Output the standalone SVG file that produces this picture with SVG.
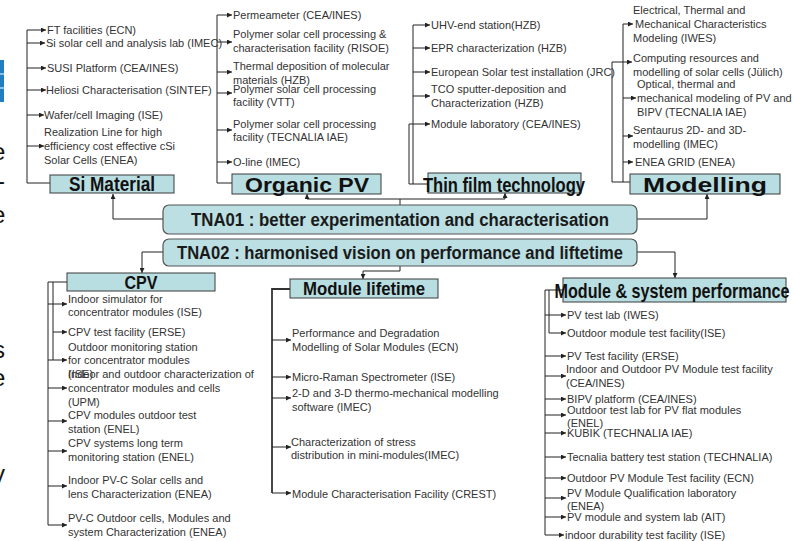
<svg xmlns="http://www.w3.org/2000/svg" width="794" height="541" viewBox="0 0 794 541">
<defs>
<marker id="a" viewBox="0 0 6 6" refX="6" refY="3" markerWidth="5" markerHeight="5" orient="auto" markerUnits="userSpaceOnUse"><path d="M0,0 L6,3 L0,6z" fill="#222"/></marker>
<style>
.it{font-family:"Liberation Sans",Arial,sans-serif;font-size:11px;fill:#333}
.hd{font-family:"Liberation Sans",Arial,sans-serif;font-weight:bold;font-size:19px;fill:#111;text-anchor:middle}
.tn{font-family:"Liberation Sans",Arial,sans-serif;font-weight:bold;font-size:17px;fill:#1a1a1a;text-anchor:middle}
.bx{fill:#b9dee2;stroke:#3a3a3a;stroke-width:1}
.tb{fill:#bbdfe3;stroke:#555;stroke-width:1.2}
.ln{fill:none;stroke:#222;stroke-width:1}
.ar{fill:none;stroke:#222;stroke-width:1;marker-end:url(#a)}
.fr{font-family:"Liberation Sans",Arial,sans-serif;font-size:24px;fill:#111}
</style>
</defs>
<rect width="794" height="541" fill="#fff"/>

<g id="edge-fragments">
<rect x="0" y="60" width="4" height="42" fill="#1f7fc2"/>
<line x1="0" y1="74" x2="4" y2="74" stroke="#fff" stroke-width="1"/>
<line x1="0" y1="88" x2="4" y2="88" stroke="#fff" stroke-width="1"/>
<text class="fr" x="-8" y="160">e</text>
<text class="fr" x="-3" y="189">-</text>
<text class="fr" x="-8" y="223">e</text>
<text class="fr" x="-7" y="358">s</text>
<text class="fr" x="-8" y="386">e</text>
<text class="fr" x="-7" y="482">y</text>
</g>

<g id="connectors">
<!-- Si Material -->
<polyline class="ln" points="27,30 27,183 50,183"/>
<line class="ar" x1="27" y1="30" x2="46" y2="30"/>
<line class="ar" x1="27" y1="43" x2="45" y2="43"/>
<line class="ar" x1="27" y1="68" x2="46" y2="68"/>
<line class="ar" x1="27" y1="90" x2="46" y2="90"/>
<line class="ar" x1="27" y1="115" x2="44" y2="115"/>
<line class="ar" x1="27" y1="146" x2="44" y2="146"/>
<!-- Organic PV -->
<polyline class="ln" points="217,15 217,183 232,183"/>
<line class="ar" x1="217" y1="15" x2="232" y2="15"/>
<line class="ar" x1="217" y1="42" x2="232" y2="42"/>
<line class="ar" x1="217" y1="72" x2="232" y2="72"/>
<line class="ar" x1="217" y1="93" x2="232" y2="93"/>
<line class="ar" x1="217" y1="130" x2="232" y2="130"/>
<line class="ar" x1="217" y1="162" x2="232" y2="162"/>
<!-- Thin film -->
<polyline class="ln" points="413,25 413,184 428,184"/>
<polyline class="ln" points="409,124 409,184 413,184"/>
<line class="ar" x1="413" y1="25" x2="430" y2="25"/>
<line class="ar" x1="413" y1="48" x2="430" y2="48"/>
<line class="ar" x1="413" y1="72" x2="430" y2="72"/>
<line class="ar" x1="413" y1="96" x2="430" y2="96"/>
<line class="ar" x1="409" y1="124" x2="430" y2="124"/>
<!-- Modelling -->
<polyline class="ln" points="623,24 623,182 630,182"/>
<polyline class="ln" points="612,62 612,182 623,182"/>
<line class="ar" x1="623" y1="24" x2="633" y2="24"/>
<line class="ar" x1="612" y1="62" x2="632" y2="62"/>
<line class="ar" x1="623" y1="98" x2="636" y2="98"/>
<line class="ar" x1="623" y1="136" x2="633" y2="136"/>
<line class="ar" x1="623" y1="162" x2="633" y2="162"/>
<!-- TNA01 -->
<polyline class="ar" points="163,219 113,219 113,194"/>
<line class="ln" x1="400" y1="205" x2="400" y2="199"/>
<line class="ln" x1="307" y1="199" x2="505" y2="199"/>
<line class="ar" x1="307" y1="199" x2="307" y2="194"/>
<line class="ar" x1="505" y1="199" x2="505" y2="193"/>
<polyline class="ar" points="637,219 707,219 707,194"/>
<!-- TNA02 -->
<polyline class="ar" points="163,252 142,252 142,273"/>
<polyline class="ar" points="400,266 400,271 363,271 363,279"/>
<polyline class="ar" points="637,252 675,252 675,278"/>
<!-- CPV -->
<polyline class="ln" points="67,282 48,282 48,525"/>
<polyline class="ln" points="53,282 53,360"/>
<line class="ar" x1="48" y1="304" x2="67" y2="304"/>
<line class="ar" x1="53" y1="332" x2="67" y2="332"/>
<line class="ar" x1="48" y1="360" x2="67" y2="360"/>
<line class="ar" x1="48" y1="388" x2="67" y2="388"/>
<line class="ar" x1="48" y1="421" x2="67" y2="421"/>
<line class="ar" x1="48" y1="451" x2="67" y2="451"/>
<line class="ar" x1="48" y1="486" x2="67" y2="486"/>
<line class="ar" x1="48" y1="525" x2="67" y2="525"/>
<!-- Module lifetime -->
<polyline class="ln" points="290,289 272,289 272,493" style="stroke-width:1.8;stroke:#333"/>
<line class="ar" x1="272" y1="340" x2="291" y2="340"/>
<line class="ar" x1="272" y1="377" x2="291" y2="377"/>
<line class="ar" x1="272" y1="398" x2="291" y2="398"/>
<line class="ar" x1="272" y1="447" x2="291" y2="447"/>
<line class="ar" x1="272" y1="493" x2="291" y2="493"/>
<!-- Module & system performance -->
<polyline class="ln" points="563,290 545,290 545,535"/>
<polyline class="ln" points="549,290 549,333"/>
<line class="ar" x1="545" y1="315" x2="566" y2="315"/>
<line class="ar" x1="549" y1="333" x2="566" y2="333"/>
<line class="ar" x1="545" y1="356" x2="566" y2="356"/>
<line class="ar" x1="545" y1="376" x2="566" y2="376"/>
<line class="ar" x1="545" y1="399" x2="566" y2="399"/>
<line class="ar" x1="545" y1="415" x2="566" y2="415"/>
<line class="ar" x1="545" y1="433" x2="566" y2="433"/>
<line class="ar" x1="545" y1="457" x2="566" y2="457"/>
<line class="ar" x1="545" y1="478" x2="566" y2="478"/>
<line class="ar" x1="545" y1="498" x2="566" y2="498"/>
<line class="ar" x1="545" y1="517" x2="566" y2="517"/>
<line class="ar" x1="545" y1="535" x2="564" y2="535"/>
</g>

<g id="si-material">
<rect class="bx" x="50" y="175" width="124" height="18"/>
<text class="hd" x="112" y="191" style="font-size:20px" textLength="86" lengthAdjust="spacingAndGlyphs">Si Material</text>
<text class="it" x="47" y="34">FT facilities (ECN)</text>
<text class="it" x="46" y="47">Si solar cell and analysis lab (IMEC)</text>
<text class="it" x="47" y="72">SUSI Platform (CEA/INES)</text>
<text class="it" x="46" y="94">Heliosi Characterisation (SINTEF)</text>
<text class="it" x="44" y="119">Wafer/cell Imaging (ISE)</text>
<text class="it" x="44" y="136">Realization Line for high</text>
<text class="it" x="44" y="150">efficiency cost effective  cSi</text>
<text class="it" x="44" y="164">Solar Cells (ENEA)</text>
</g>

<g id="organic-pv">
<rect class="bx" x="232" y="174" width="149" height="20"/>
<text class="hd" x="307" y="192" style="font-size:21px" textLength="124" lengthAdjust="spacingAndGlyphs">Organic PV</text>
<text class="it" x="233" y="19">Permeameter (CEA/INES)</text>
<text class="it" x="233" y="38">Polymer solar cell processing &amp;</text>
<text class="it" x="233" y="52">characterisation facility (RISOE)</text>
<text class="it" x="233" y="70">Thermal deposition of molecular</text>
<text class="it" x="233" y="84">materials (HZB)</text>
<text class="it" x="233" y="93">Polymer solar cell processing</text>
<text class="it" x="233" y="106">facility (VTT)</text>
<text class="it" x="233" y="128">Polymer solar cell processing</text>
<text class="it" x="233" y="141">facility (TECNALIA IAE)</text>
<text class="it" x="233" y="166">O-line (IMEC)</text>
</g>

<g id="thin-film">
<rect class="bx" x="428" y="173" width="153" height="20"/>
<text class="hd" x="504" y="192" style="font-size:21px" textLength="162" lengthAdjust="spacingAndGlyphs">Thin film technology</text>
<text class="it" x="431" y="29">UHV-end station(HZB)</text>
<text class="it" x="431" y="52">EPR characterization (HZB)</text>
<text class="it" x="431" y="76">European Solar test installation (JRC)</text>
<text class="it" x="431" y="93">TCO  sputter-deposition and</text>
<text class="it" x="431" y="107">Characterization (HZB)</text>
<text class="it" x="431" y="128">Module laboratory (CEA/INES)</text>
</g>

<g id="modelling">
<rect class="bx" x="630" y="174" width="150" height="20"/>
<text class="hd" x="705" y="192" style="font-size:21px" textLength="124" lengthAdjust="spacingAndGlyphs">Modelling</text>
<text class="it" x="633" y="14">Electrical, Thermal and</text>
<text class="it" x="635" y="28">Mechanical Characteristics</text>
<text class="it" x="633" y="42">Modeling (IWES)</text>
<text class="it" x="633" y="62">Computing resources and</text>
<text class="it" x="633" y="76">modelling of solar cells (Jülich)</text>
<text class="it" x="637" y="88">Optical, thermal and</text>
<text class="it" x="637" y="102">mechanical modeling of PV and</text>
<text class="it" x="637" y="116">BIPV (TECNALIA IAE)</text>
<text class="it" x="633" y="134">Sentaurus 2D- and 3D-</text>
<text class="it" x="633" y="148">modelling (IMEC)</text>
<text class="it" x="635" y="166">ENEA GRID (ENEA)</text>
</g>

<g id="tna01">
<rect class="tb" x="163" y="205" width="474" height="29" rx="6"/>
<text class="tn" x="400" y="226" style="font-size:18px" textLength="418" lengthAdjust="spacingAndGlyphs">TNA01 : better experimentation and characterisation</text>
</g>

<g id="tna02">
<rect class="tb" x="163" y="239" width="474" height="27" rx="6"/>
<text class="tn" x="400" y="259" style="font-size:18px" textLength="446" lengthAdjust="spacingAndGlyphs">TNA02 : harmonised vision on performance and liftetime</text>
</g>

<g id="cpv">
<rect class="bx" x="67" y="273" width="148" height="18"/>
<text class="hd" x="141" y="289" style="font-size:18px" textLength="33" lengthAdjust="spacingAndGlyphs">CPV</text>
<text class="it" x="68" y="303">Indoor simulator for</text>
<text class="it" x="68" y="316">concentrator modules (ISE)</text>
<text class="it" x="68" y="336">CPV test facility (ERSE)</text>
<text class="it" x="68" y="351">Outdoor monitoring station</text>
<text class="it" x="68" y="364">for concentrator modules</text>
<text class="it" x="68" y="378">(ISE)</text>
<text class="it" x="68" y="378">Indoor and outdoor characterization of</text>
<text class="it" x="68" y="392">concentrator modules and cells</text>
<text class="it" x="68" y="406">(UPM)</text>
<text class="it" x="68" y="419">CPV modules outdoor test</text>
<text class="it" x="68" y="433">station (ENEL)</text>
<text class="it" x="68" y="447">CPV systems long term</text>
<text class="it" x="68" y="461">monitoring station (ENEL)</text>
<text class="it" x="68" y="484">Indoor  PV-C Solar cells and</text>
<text class="it" x="68" y="498">lens Characterization (ENEA)</text>
<text class="it" x="68" y="522">PV-C Outdoor  cells, Modules and</text>
<text class="it" x="68" y="536">system Characterization (ENEA)</text>
</g>

<g id="module-lifetime">
<rect class="bx" x="290" y="279" width="148" height="19"/>
<text class="hd" x="364" y="295" style="font-size:18px" textLength="122" lengthAdjust="spacingAndGlyphs">Module lifetime</text>
<text class="it" x="292" y="337">Performance and Degradation</text>
<text class="it" x="292" y="351">Modelling of Solar Modules (ECN)</text>
<text class="it" x="292" y="381">Micro-Raman Spectrometer (ISE)</text>
<text class="it" x="292" y="397">2-D and 3-D thermo-mechanical modelling</text>
<text class="it" x="292" y="411">software (IMEC)</text>
<text class="it" x="291" y="446">Characterization of stress</text>
<text class="it" x="291" y="459">distribution in mini-modules(IMEC)</text>
<text class="it" x="292" y="498">Module Characterisation Facility (CREST)</text>
</g>

<g id="module-system-performance">
<rect class="bx" x="563" y="278" width="223" height="24"/>
<text class="hd" x="672" y="298" style="font-size:21px" textLength="235" lengthAdjust="spacingAndGlyphs">Module &amp; system performance</text>
<text class="it" x="567" y="319">PV test lab (IWES)</text>
<text class="it" x="567" y="337">Outdoor module test facility(ISE)</text>
<text class="it" x="567" y="360">PV Test facility (ERSE)</text>
<text class="it" x="566" y="373">Indoor and Outdoor PV Module test facility</text>
<text class="it" x="566" y="387">(CEA/INES)</text>
<text class="it" x="567" y="403">BIPV platform (CEA/INES)</text>
<text class="it" x="567" y="414">Outdoor test lab for PV flat modules</text>
<text class="it" x="567" y="427">(ENEL)</text>
<text class="it" x="567" y="437">KUBIK (TECHNALIA IAE)</text>
<text class="it" x="567" y="461">Tecnalia battery test station (TECHNALIA)</text>
<text class="it" x="567" y="482">Outdoor PV Module Test facility (ECN)</text>
<text class="it" x="567" y="497">PV Module Qualification laboratory</text>
<text class="it" x="567" y="510">(ENEA)</text>
<text class="it" x="567" y="521">PV module and system lab (AIT)</text>
<text class="it" x="565" y="539">indoor durability test facility (ISE)</text>
</g>
</svg>
